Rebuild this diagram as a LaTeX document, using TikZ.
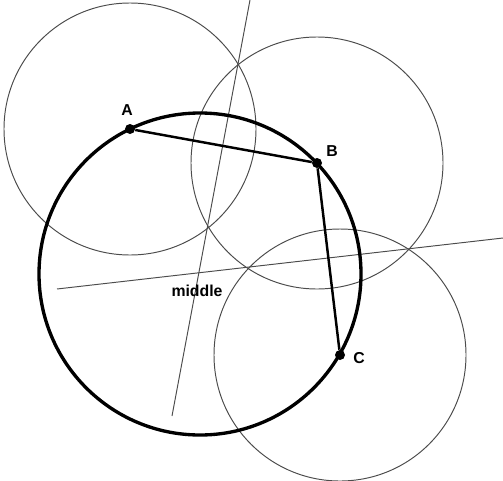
\documentclass[tikz,border=0pt]{standalone}
\usepackage{fontspec}
\setmainfont{Liberation Sans}
\usetikzlibrary{positioning}
\tikzset{
  construct/.style={draw=black!70, line width=0.55pt},
  rim/.style={draw=black, line width=1.9pt},
  chord/.style={draw=black, line width=1.4pt},
  dot/.style={circle, fill=black, inner sep=0pt, minimum size=0.2cm},
  lbl/.style={font=\fontsize{9}{10}\selectfont\bfseries, inner sep=0pt}
}
\begin{document}
\begin{tikzpicture}[x=0.02cm,y=-0.02cm]
\useasboundingbox (0,0) rectangle (503,480);
\coordinate (O) at (200,274);
\node[dot] (A) at (130,129) {};
\node[dot] (B) at (317,163) {};
\node[dot] (C) at (340,355) {};
% compass circles
\draw[construct] (A.center) circle[radius=126];
\draw[construct] (B.center) circle[radius=126];
\draw[construct] (C.center) circle[radius=126];
% bisectors
\coordinate (ab1) at (250,0);
\coordinate (ab2) at (172,416);
\coordinate (bc1) at (57,289);
\coordinate (bc2) at (503,238);
\draw[construct] (ab1) -- (ab2);
\draw[construct] (bc1) -- (bc2);
% circle through A, B, C
\draw[rim] (O) circle[radius=161];
\draw[chord] (A) -- (B) -- (C);
\node[lbl] (labA) at (127,110) {A};
\node[lbl] (labB) at (332,151) {B};
\node[lbl] (labC) at (359,358) {C};
\node[lbl] (labO) at (197,291) {middle};
\end{tikzpicture}
\end{document}
